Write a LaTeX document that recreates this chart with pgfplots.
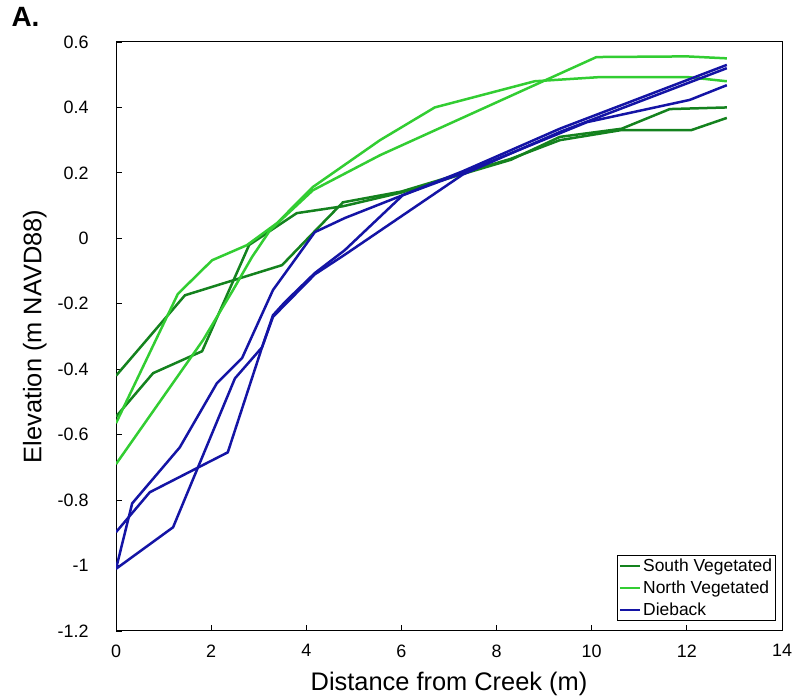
\documentclass[border=0pt]{standalone}
\usepackage{fontspec}
\setmainfont{Liberation Sans}
\usepackage{pgfplots}
\pgfplotsset{compat=1.18}
\definecolor{sveg}{RGB}{20,130,30}
\definecolor{nveg}{RGB}{50,205,50}
\definecolor{dieb}{RGB}{20,20,165}
\begin{document}
\begin{tikzpicture}
\path[use as bounding box] (0bp,0bp) rectangle (797bp,698bp);
\node[anchor=west,font=\fontsize{28}{30}\selectfont\bfseries] at (8bp,681bp) {A.};
\begin{axis}[
  at={(116bp,67bp)}, anchor=south west,
  scale only axis, width=666bp, height=589bp,
  xmin=0, xmax=14, ymin=-1.2, ymax=0.6,
  xtick={0,2,4,6,8,10,12,14},
  xticklabels={0,2,4,6,8,10,12,14},
  ytick={-1.2,-1,-0.8,-0.6,-0.4,-0.2,0,0.2,0.4,0.6},
  yticklabels={-1.2,-1,-0.8,-0.6,-0.4,-0.2,0,0.2,0.4,0.6},
  xtick pos=bottom, ytick pos=left, tick align=inside,
  major tick length=6bp,
  axis line style={line width=1bp},
  every tick/.style={black, line width=0.8bp},
  tick label style={font=\fontsize{18}{20}\selectfont},
  yticklabel style={xshift=-24bp},
  xticklabel style={yshift=-10bp},
  label style={font=\fontsize{25.5}{28}\selectfont},
  xlabel style={yshift=-8bp},
  ylabel style={yshift=4bp},
  xlabel={Distance from Creek (m)},
  ylabel={Elevation (m NAVD88)},
  legend style={at={(rel axis cs:1,0)}, anchor=south east, xshift=-6bp, yshift=10bp,
    draw=black, line width=0.8bp, font=\fontsize{17.5}{19}\selectfont,
    inner sep=1.5bp, row sep=4bp, cells={anchor=west}},
  legend image code/.code={\draw[#1, line width=2.5bp] (0bp,0bp) -- (20bp,0bp);},
  every axis plot/.append style={line width=2.5bp},
]
\addplot[sveg] coordinates {(0,-0.42) (1.45,-0.174) (3.49,-0.082) (4.14,0.016) (4.77,0.11) (6.0,0.143) (7.3,0.2) (8.3,0.243) (9.33,0.30) (10.63,0.331) (12.1,0.331) (12.84,0.368)};
\addlegendentry{South Vegetated}
\addplot[sveg, forget plot] coordinates {(0,-0.545) (0.78,-0.412) (1.81,-0.345) (2.8,-0.02) (3.8,0.077) (4.77,0.098) (6.0,0.14) (7.3,0.197) (8.3,0.24) (9.33,0.31) (10.63,0.335) (11.64,0.395) (12.84,0.40)};
\addplot[nveg] coordinates {(0,-0.565) (1.3,-0.17) (2.02,-0.067) (2.75,-0.021) (3.38,0.046) (4.14,0.157) (5.55,0.30) (6.7,0.40) (8.8,0.48) (10.2,0.493) (12.0,0.493) (12.84,0.48)};
\addlegendentry{North Vegetated}
\addplot[nveg, forget plot] coordinates {(0,-0.69) (1.83,-0.311) (2.46,-0.158) (2.86,-0.057) (3.24,0.025) (4.14,0.147) (5.55,0.254) (10.1,0.554) (12.0,0.556) (12.84,0.55)};
\addplot[dieb] coordinates {(0,-0.898) (0.71,-0.776) (2.35,-0.654) (3.07,-0.333) (3.3,-0.235) (3.55,-0.195) (4.18,-0.106) (4.81,-0.036) (6.03,0.132) (7.29,0.205) (9.33,0.335) (12.84,0.53)};
\addlegendentry{Dieback}
\addplot[dieb, forget plot] coordinates {(0,-1.01) (0.34,-0.81) (1.34,-0.639) (2.12,-0.443) (2.65,-0.366) (3.3,-0.158) (4.18,0.019) (4.81,0.062) (6.03,0.132) (7.29,0.2) (9.9,0.355) (12.06,0.423) (12.84,0.468)};
\addplot[dieb, forget plot] coordinates {(0,-1.01) (1.2,-0.883) (2.5,-0.428) (3.07,-0.333) (3.3,-0.24) (4.18,-0.11) (4.81,-0.05) (7.29,0.195) (9.33,0.325) (12.84,0.52)};
\end{axis}
\end{tikzpicture}
\end{document}
